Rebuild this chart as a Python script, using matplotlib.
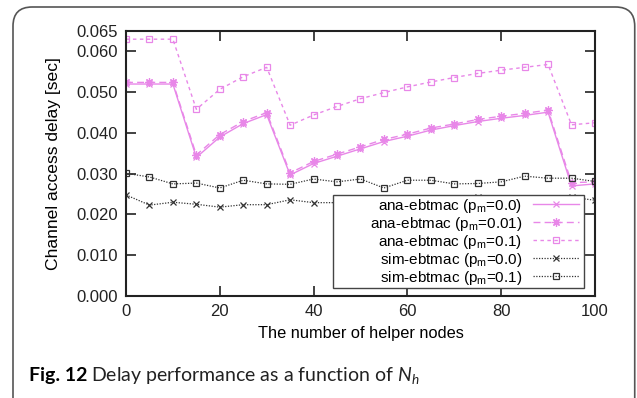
import matplotlib
matplotlib.use('Agg')
import matplotlib.pyplot as plt
from matplotlib.patches import FancyBboxPatch, Rectangle

plt.rcParams['font.family'] = ['Liberation Sans', 'DejaVu Sans']
plt.rcParams['mathtext.fontset'] = 'custom'
plt.rcParams['mathtext.it'] = 'Lato:italic'
plt.rcParams['mathtext.rm'] = 'Lato'

# 数据
helpers = [0, 5, 10, 15, 20, 25, 30, 35, 40, 45, 50, 55, 60, 65, 70, 75, 80, 85, 90, 95, 100]
ana_p00 = [0.0520, 0.0520, 0.0520, 0.0340, 0.0390, 0.0423, 0.0445, 0.0297, 0.0325, 0.0343, 0.0361,
           0.0379, 0.0392, 0.0407, 0.0418, 0.0428, 0.0436, 0.0443, 0.0451, 0.0270, 0.0275]
ana_p001 = [0.0524, 0.0524, 0.0524, 0.0346, 0.0396, 0.0428, 0.0450, 0.0302, 0.0330, 0.0348, 0.0366,
            0.0384, 0.0397, 0.0412, 0.0422, 0.0433, 0.0441, 0.0448, 0.0456, 0.0278, 0.0280]
ana_p01 = [0.0630, 0.0630, 0.0630, 0.0458, 0.0507, 0.0538, 0.0561, 0.0419, 0.0444, 0.0465, 0.0484,
           0.0499, 0.0513, 0.0525, 0.0536, 0.0546, 0.0554, 0.0561, 0.0568, 0.0420, 0.0425]
sim_p00 = [0.0248, 0.0223, 0.0230, 0.0225, 0.0218, 0.0224, 0.0224, 0.0236, 0.0229, 0.0229, 0.0233,
           0.0221, 0.0228, 0.0235, 0.0229, 0.0242, 0.0230, 0.0224, 0.0235, 0.0242, 0.0235]
sim_p01 = [0.0301, 0.0292, 0.0275, 0.0277, 0.0265, 0.0284, 0.0275, 0.0274, 0.0287, 0.0280, 0.0287,
           0.0265, 0.0284, 0.0284, 0.0275, 0.0276, 0.0280, 0.0294, 0.0289, 0.0289, 0.0281]

pink = '#e887e8'
grey = '#333333'

fig = plt.figure(figsize=(6.37, 3.98), dpi=100)
ax = fig.add_axes([0.1978, 0.2563, 0.7362, 0.6657])

ax.plot(helpers, ana_p00, color=pink, lw=1.0, ls='-', marker='x', ms=5, mew=0.9,
        label=r'ana-ebtmac ($\mathregular{p_m}$=0.0)')
ax.plot(helpers, ana_p001, color=pink, lw=1.0, ls=(0, (5, 3)), marker=(8, 2, 0), ms=6, mew=0.9,
        label=r'ana-ebtmac ($\mathregular{p_m}$=0.01)')
ax.plot(helpers, ana_p01, color=pink, lw=1.0, ls=(0, (2.5, 2.5)), marker='s', ms=5, mew=0.9,
        mfc='none', label=r'ana-ebtmac ($\mathregular{p_m}$=0.1)')
ax.plot(helpers, sim_p00, color=grey, lw=0.9, ls=(0, (1, 1.2)), marker='x', ms=4.5, mew=0.9,
        label=r'sim-ebtmac ($\mathregular{p_m}$=0.0)')
ax.plot(helpers, sim_p01, color=grey, lw=0.9, ls=(0, (1, 1.2)), marker='s', ms=5, mew=0.9,
        mfc='none', label=r'sim-ebtmac ($\mathregular{p_m}$=0.1)')

ax.set_xlim(0, 100)
ax.set_ylim(0, 0.065)
ax.set_xticks([0, 20, 40, 60, 80, 100])
ax.set_yticks([0.0, 0.01, 0.02, 0.03, 0.04, 0.05, 0.06, 0.065])
ax.set_yticklabels(['0.000', '0.010', '0.020', '0.030', '0.040', '0.050', '0.060', '0.065'])
ax.tick_params(direction='in', length=7, width=1.2, labelsize=12, top=True, right=True,
               colors='#222222', pad=6)
for s in ax.spines.values():
    s.set_linewidth(1.5)
    s.set_color('#222222')

ax.set_xlabel('The number of helper nodes', fontsize=11.8, labelpad=5)
ax.set_ylabel('Channel access delay [sec]', fontsize=12.6, labelpad=11)

# 图例（gnuplot 风格：文字右对齐，线样在右边），框单独画
leg = ax.legend(loc='lower right', bbox_to_anchor=(0.965, 0.035), borderaxespad=0,
                markerfirst=False, frameon=False, fontsize=11, handlelength=3.0,
                labelspacing=0.0, borderpad=0.0, handletextpad=0.7)
leg.set_zorder(5)

fig.canvas.draw()
lb = leg.get_window_extent().transformed(ax.transAxes.inverted())
box = Rectangle((0.4414, lb.y0 - 0.006), 0.9765 - 0.4414, lb.height + 0.012,
                transform=ax.transAxes, facecolor='white', edgecolor='#444444', lw=1.0,
                zorder=4.9)
ax.add_patch(box)

# 外框和图注
border = FancyBboxPatch((13 / 637, -0.2), 623 / 637 - 0.002, 1.2 - 7 / 398,
                        boxstyle='round,pad=0,rounding_size=0.03', transform=fig.transFigure,
                        fill=False, edgecolor='#555555', lw=1.2, clip_on=False,
                        mutation_aspect=637 / 398)
fig.patches.append(border)

t1 = fig.text(29 / 637, 1 - 375 / 398, 'Fig. 12', fontsize=14, fontweight='bold',
              family='Lato', va='center')
fig.canvas.draw()
bb = t1.get_window_extent()
fig.text((bb.x1 + 4) / 637, 1 - 375 / 398, r'Delay performance as a function of $N_h$',
         fontsize=14, family='Lato', va='center', color='#222222')

plt.savefig('out.png', dpi=100)
